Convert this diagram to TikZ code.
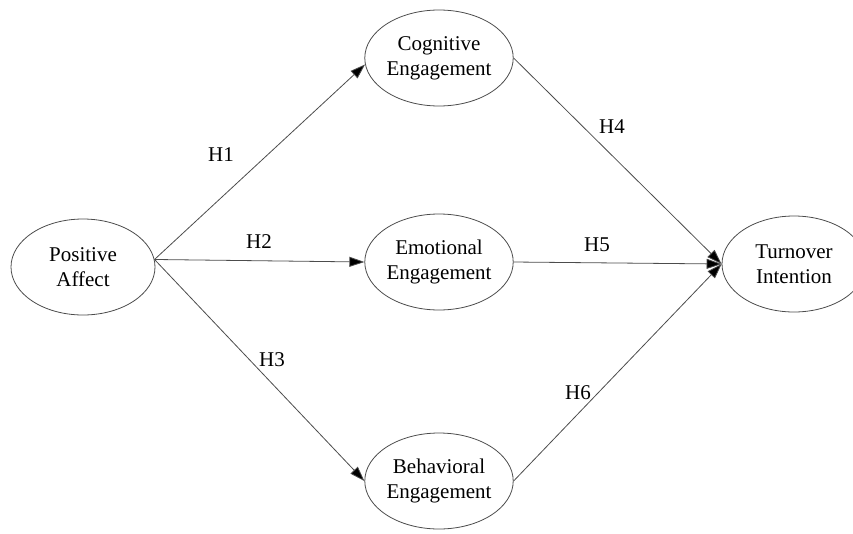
\documentclass[tikz,border=0pt]{standalone}
\usepackage{fontspec}
\setmainfont{Liberation Serif}
\usetikzlibrary{shapes.geometric,arrows.meta}
\begin{document}
\begin{tikzpicture}[x=1pt,y=-1pt,
  latent/.style={ellipse,draw=black!70,line width=0.8pt,minimum width=144pt,minimum height=96pt,inner sep=0pt,align=center,font=\fontsize{21}{25}\selectfont},
  path/.style={draw=black!70,line width=0.8pt,-{Triangle[length=15pt,width=10pt,fill=black]}},
  hlab/.style={font=\fontsize{21}{25}\selectfont,inner sep=0pt}]
\useasboundingbox (0,0) rectangle (853,533);
\node[latent] (pa) at (83,267) {Positive\\Affect};
\node[latent] (cog) at (439,58) {Cognitive\\Engagement};
\node[latent] (emo) at (439,262) {Emotional\\Engagement};
\node[latent] (beh) at (439,481) {Behavioral\\Engagement};
\node[latent] (ti) at (794,264) {Turnover\\Intention};
\draw[path] (pa.6) -- (cog.185);
\draw[path] (pa.6) -- (emo.west);
\draw[path] (pa.6) -- (beh.west);
\draw[path] (cog.east) -- (ti.west);
\draw[path] (emo.east) -- (ti.west);
\draw[path] (beh.east) -- (ti.west);
\node[hlab] (h1) at (221,155) {H1};
\node[hlab] (h2) at (259,242) {H2};
\node[hlab] (h3) at (272,360) {H3};
\node[hlab] (h4) at (612,127) {H4};
\node[hlab] (h5) at (597,245) {H5};
\node[hlab] (h6) at (578,393) {H6};
\end{tikzpicture}
\end{document}
